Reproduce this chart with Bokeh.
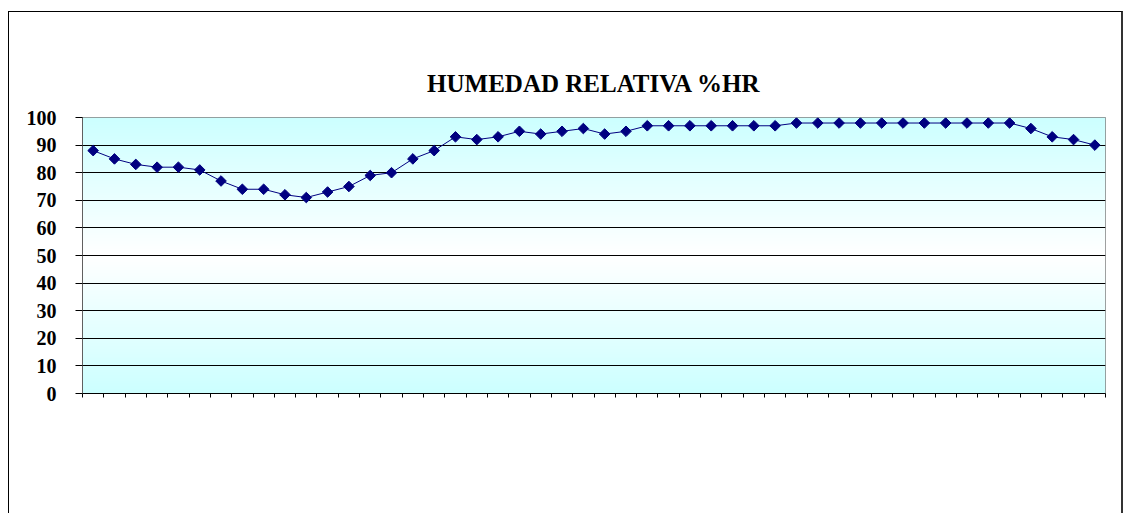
import numpy as np
from bokeh.plotting import figure
from bokeh.models import Range1d, FixedTicker
from bokeh.embed import file_html
from bokeh.resources import INLINE

# ---- data ----
title_text = "HUMEDAD RELATIVA %HR"
categories = list(range(48))
hr = [88, 85, 83, 82, 82, 81, 77, 74, 74, 72, 71, 73, 75, 79, 80,
      85, 88, 93, 92, 93, 95, 94, 95, 96, 94, 95,
      97, 97, 97, 97, 97, 97, 97,
      98, 98, 98, 98, 98, 98, 98, 98, 98, 98, 98,
      96, 93, 92, 90]
y_ticks = [0, 10, 20, 30, 40, 50, 60, 70, 80, 90, 100]

n = len(categories)
p = figure(frame_width=1023, frame_height=276,
           min_border_left=73, min_border_right=16,
           min_border_top=105, min_border_bottom=120,
           x_range=Range1d(-0.5, n - 0.5), y_range=Range1d(0, 100),
           output_backend="svg", toolbar_location=None)
p.styles = {"border-top": "1px solid #000000", "border-left": "1px solid #000000",
            "border-right": "2px solid #333333",
            "margin-top": "11px", "margin-left": "8px"}

# gradient background (style only)
N = 200
img = np.empty((N, 1), dtype=np.uint32)
view = img.view(dtype=np.uint8).reshape((N, 1, 4))
for i in range(N):
    t = abs((i + 0.5) / N - 0.5) * 2.0
    view[i, 0, 0] = int(round(255 - (255 - 204) * t))
    view[i, 0, 1] = 255
    view[i, 0, 2] = 255
    view[i, 0, 3] = 255
p.image_rgba(image=[img], x=-0.5, y=0, dw=n, dh=100, level="image")

p.title.text = title_text
p.title.align = "center"
p.title.offset = 9
p.title.text_font = "Liberation Serif"
p.title.text_font_size = "25px"
p.title.text_font_style = "bold"
p.title.text_color = "#000000"
p.title.standoff = 42

p.outline_line_color = "#808080"
p.background_fill_color = "#ffffff"

p.xgrid.visible = False
p.ygrid.ticker = FixedTicker(ticks=y_ticks)
p.ygrid.grid_line_color = "#000000"
p.ygrid.grid_line_width = 1
p.ygrid.level = "underlay"

xa = p.xaxis[0]
xa.ticker = FixedTicker(ticks=[i - 0.5 for i in range(n + 1)])
xa.major_label_text_color = None
xa.major_tick_in = 0
xa.major_tick_out = 4
xa.minor_tick_line_color = None
xa.axis_line_color = "#000000"
xa.major_tick_line_color = "#000000"

ya = p.yaxis[0]
ya.ticker = FixedTicker(ticks=y_ticks)
ya.major_tick_in = 0
ya.major_tick_out = 7
ya.minor_tick_line_color = None
ya.axis_line_color = "#606060"
ya.major_tick_line_color = "#000000"
ya.major_label_standoff = 19
ya.major_label_text_font = "Liberation Serif"
ya.major_label_text_font_size = "20px"
ya.major_label_text_font_style = "bold"
ya.major_label_text_color = "#000000"

p.line(categories, hr, line_color="#000080", line_width=1)
p.scatter(categories, hr, marker="square", angle=np.pi / 4, size=7.5,
          fill_color="#000080", line_color="#000080")

open("out.html", "w").write(file_html(p, INLINE))
